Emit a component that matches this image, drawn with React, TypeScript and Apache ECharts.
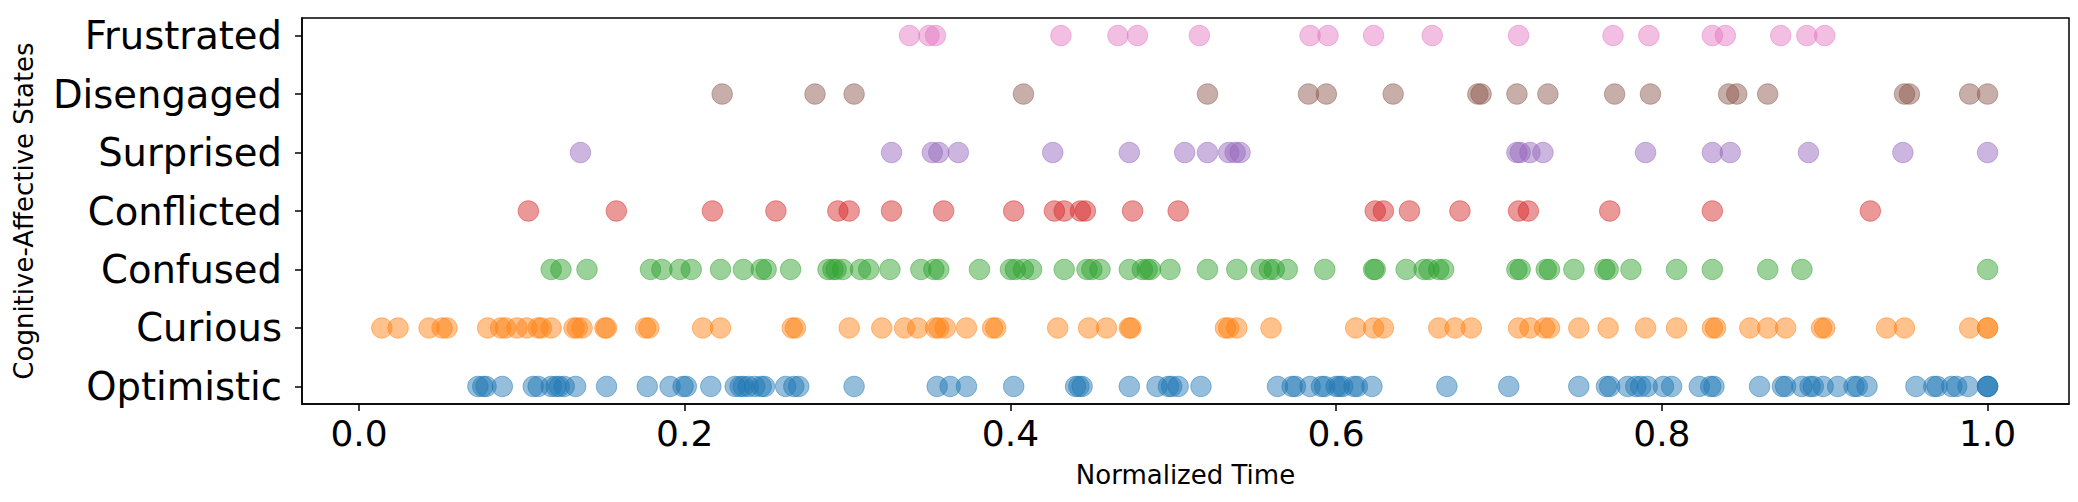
import React, { useEffect, useRef } from "react";
import * as echarts from "echarts";

const states = ["Optimistic", "Curious", "Confused", "Conflicted", "Surprised", "Disengaged", "Frustrated"];
const colors = ["#1f77b4", "#ff7f0e", "#2ca02c", "#d62728", "#9467bd", "#8c564b", "#e377c2"];
const xTicks = [0, 0.2, 0.4, 0.6, 0.8, 1.0];

const optimistic = [0.073, 0.076, 0.078, 0.088, 0.107, 0.110, 0.118, 0.121, 0.123, 0.126, 0.133, 0.152, 0.177, 0.191, 0.199, 0.201, 0.216, 0.231, 0.234, 0.236, 0.239, 0.243, 0.247, 0.249, 0.262, 0.267, 0.270, 0.304, 0.355, 0.363, 0.373, 0.402, 0.440, 0.442, 0.444, 0.473, 0.490, 0.497, 0.499, 0.503, 0.517, 0.564, 0.573, 0.575, 0.584, 0.591, 0.593, 0.600, 0.602, 0.604, 0.611, 0.613, 0.622, 0.668, 0.706, 0.749, 0.766, 0.768, 0.779, 0.784, 0.787, 0.791, 0.801, 0.806, 0.823, 0.830, 0.832, 0.860, 0.874, 0.876, 0.886, 0.891, 0.893, 0.899, 0.908, 0.918, 0.920, 0.926, 0.956, 0.967, 0.969, 0.978, 0.981, 0.988, 1.0, 1.0, 1.0];
const curious = [0.014, 0.024, 0.043, 0.051, 0.054, 0.079, 0.087, 0.090, 0.097, 0.103, 0.110, 0.112, 0.118, 0.132, 0.134, 0.137, 0.151, 0.152, 0.176, 0.178, 0.211, 0.222, 0.266, 0.268, 0.301, 0.321, 0.335, 0.343, 0.354, 0.356, 0.360, 0.373, 0.389, 0.391, 0.429, 0.448, 0.459, 0.473, 0.474, 0.532, 0.534, 0.539, 0.560, 0.612, 0.623, 0.629, 0.663, 0.673, 0.683, 0.712, 0.719, 0.728, 0.731, 0.749, 0.767, 0.790, 0.809, 0.831, 0.833, 0.854, 0.865, 0.876, 0.898, 0.900, 0.938, 0.949, 0.989, 1.0, 1.0];
const confused = [0.118, 0.124, 0.140, 0.179, 0.186, 0.197, 0.204, 0.222, 0.236, 0.247, 0.250, 0.265, 0.288, 0.291, 0.293, 0.297, 0.308, 0.313, 0.326, 0.345, 0.353, 0.356, 0.381, 0.400, 0.403, 0.408, 0.413, 0.433, 0.447, 0.450, 0.455, 0.473, 0.481, 0.484, 0.486, 0.498, 0.521, 0.539, 0.554, 0.559, 0.562, 0.570, 0.593, 0.623, 0.624, 0.643, 0.654, 0.657, 0.663, 0.666, 0.711, 0.713, 0.729, 0.731, 0.746, 0.765, 0.767, 0.781, 0.809, 0.831, 0.865, 0.886, 1.0];
const conflicted = [0.104, 0.158, 0.217, 0.256, 0.294, 0.301, 0.327, 0.359, 0.402, 0.427, 0.433, 0.443, 0.446, 0.475, 0.503, 0.624, 0.629, 0.645, 0.676, 0.712, 0.718, 0.768, 0.831, 0.928];
const surprised = [0.136, 0.327, 0.352, 0.356, 0.368, 0.426, 0.473, 0.507, 0.521, 0.534, 0.538, 0.541, 0.711, 0.713, 0.719, 0.727, 0.790, 0.831, 0.842, 0.890, 0.948, 1.0];
const disengaged = [0.223, 0.280, 0.304, 0.408, 0.521, 0.583, 0.594, 0.635, 0.687, 0.689, 0.711, 0.730, 0.771, 0.793, 0.841, 0.846, 0.865, 0.949, 0.952, 0.989, 1.0];
const frustrated = [0.338, 0.350, 0.354, 0.431, 0.466, 0.478, 0.516, 0.584, 0.595, 0.623, 0.659, 0.712, 0.770, 0.792, 0.831, 0.839, 0.873, 0.889, 0.900];

const seriesValues = [optimistic, curious, confused, conflicted, surprised, disengaged, frustrated];

function hexToRgba(hex: string, a: number) {
  const n = parseInt(hex.slice(1), 16);
  return `rgba(${(n >> 16) & 255},${(n >> 8) & 255},${n & 255},${a})`;
}

export default function App() {
  const ref = useRef<HTMLDivElement>(null);
  useEffect(() => {
    if (!ref.current) return;
    const chart = echarts.init(ref.current, undefined, { renderer: "svg" });
    const font = "DejaVu Sans";
    chart.setOption({
      animation: false,
      backgroundColor: "#ffffff",
      grid: {
        left: 302,
        right: 9,
        top: 18,
        bottom: 98,
        show: true,
        borderColor: "#000",
        borderWidth: 1.5,
        backgroundColor: "transparent",
      },
      xAxis: {
        type: "value",
        min: -0.035,
        max: 1.05,
        name: "Normalized Time",
        nameLocation: "middle",
        nameGap: 58,
        nameTextStyle: { fontFamily: font, fontSize: 26, color: "#000" },
        axisLine: { show: true, onZero: false, lineStyle: { color: "#000", width: 1.5 } },
        axisTick: { show: true, length: 7, customValues: xTicks, lineStyle: { color: "#000", width: 1.5 } },
        axisLabel: {
          customValues: xTicks,
          formatter: (v: number) => v.toFixed(1),
          fontFamily: font,
          fontSize: 36,
          color: "#000",
          margin: 11,
        },
        splitLine: { show: false },
      },
      yAxis: {
        type: "value",
        min: -0.3,
        max: 6.3,
        name: "Cognitive-Affective States",
        nameLocation: "middle",
        nameRotate: 90,
        nameGap: 265,
        nameTextStyle: { fontFamily: font, fontSize: 26, color: "#000" },
        axisLine: { show: true, onZero: false, lineStyle: { color: "#000", width: 1.5 } },
        axisTick: { show: true, length: 7, customValues: [0, 1, 2, 3, 4, 5, 6], lineStyle: { color: "#000", width: 1.5 } },
        axisLabel: {
          customValues: [0, 1, 2, 3, 4, 5, 6],
          formatter: (v: number) => states[Math.round(v)] ?? "",
          fontFamily: font,
          fontSize: 38.5,
          color: "#000",
          margin: 20,
        },
        splitLine: { show: false },
      },
      series: seriesValues.map((vals, i) => ({
        type: "scatter",
        name: states[i],
        symbol: "circle",
        symbolSize: 20.5,
        data: vals.map((x) => [x, i]),
        itemStyle: {
          color: hexToRgba(colors[i], 0.6),
          borderColor: hexToRgba(colors[i], 0.6),
          borderWidth: 1,
        },
        emphasis: { disabled: true },
      })),
    });
    return () => chart.dispose();
  }, []);
  return (
    <div
      ref={ref}
      style={{ position: "fixed", left: 0, top: 0, width: 2078, height: 502 }}
    />
  );
}
